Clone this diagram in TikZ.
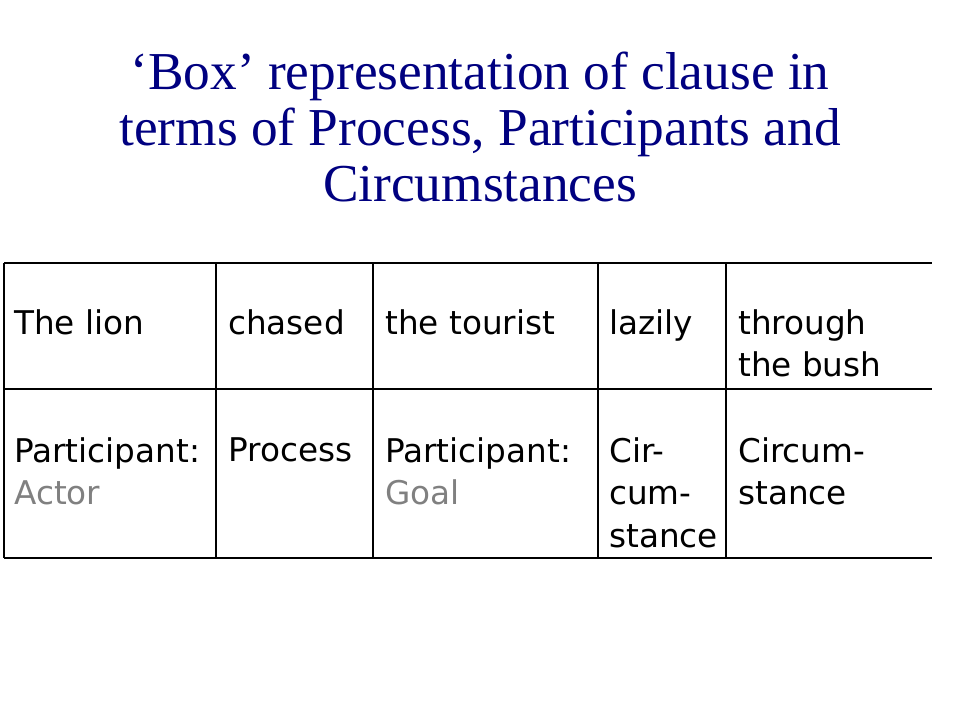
\documentclass[tikz,border=0pt]{standalone}
\usepackage{fontspec}
\setmainfont{Liberation Serif}
\newfontfamily\cellfont{DejaVu Sans}
\definecolor{navy}{HTML}{000080}
\definecolor{lgray}{HTML}{808080}
\begin{document}
\begin{tikzpicture}[x=0.75pt,y=-0.75pt,
  cell/.style={anchor=north west,inner sep=0pt,font=\cellfont\fontsize{24.5}{32}\selectfont,align=left},
  rule/.style={line width=0.8pt,black},
  gr/.style={text=lgray}]
\useasboundingbox (0,0) rectangle (960,720);
\node[font=\fontsize{40}{42}\selectfont,text=navy,align=center,inner sep=0pt] (title) at (480,127)
  {`Box' representation of clause in\\ terms of Process, Participants and\\ Circumstances};
% grid
\coordinate (tl) at (4,263); \coordinate (tr) at (932,263);
\coordinate (ml) at (4,389); \coordinate (mr) at (932,389);
\coordinate (bl) at (4,558); \coordinate (br) at (932,558);
\draw[rule] (tl) -- (tr); \draw[rule] (ml) -- (mr); \draw[rule] (bl) -- (br);
\foreach \x/\n in {4/a,216/b,373/c,598/d,726/e}{
  \coordinate (t\n) at (\x,263); \coordinate (b\n) at (\x,558);
  \draw[rule] (t\n) -- (b\n);}
% row 1
\node[cell] (r1a) at (14,309) {The lion};
\node[cell] (r1b) at (228,309) {chased};
\node[cell] (r1c) at (385,309) {the tourist};
\node[cell] (r1d) at (609,309) {lazily};
\node[cell] (r1e) at (738,309) {through\\the bush};
% row 2
\node[cell] (r2a) at (14,437) {Participant:\\\textcolor{lgray}{Actor}};
\node[cell] (r2b) at (228,437) {Process};
\node[cell] (r2c) at (385,437) {Participant:\\\textcolor{lgray}{Goal}};
\node[cell] (r2d) at (609,437) {Cir-\\cum-\\stance};
\node[cell] (r2e) at (738,437) {Circum-\\stance};
\end{tikzpicture}
\end{document}
